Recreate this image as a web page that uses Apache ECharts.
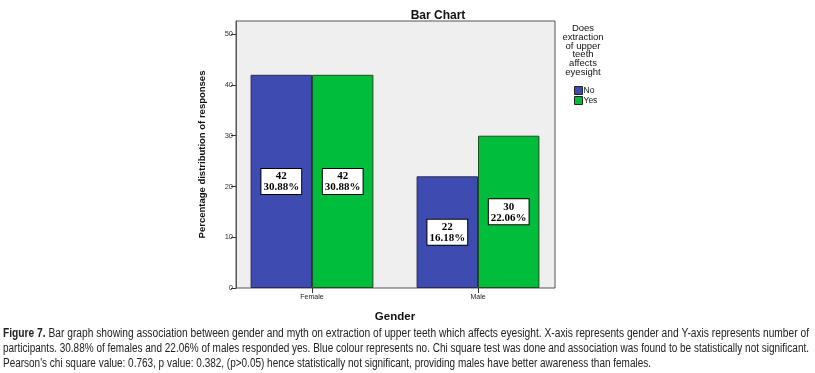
<!DOCTYPE html>
<html><head><meta charset="utf-8">
<script src="https://cdn.jsdelivr.net/npm/echarts@6/dist/echarts.min.js"></script>
<style>html,body{margin:0;padding:0;background:#fff}#c{width:815px;height:373px}</style>
</head><body><div id="c"></div>
<script>
const categories = ['Female', 'Male'];
const noCounts = [42, 22];
const yesCounts = [42, 30];
const noPct = ['30.88%', '16.18%'];
const yesPct = ['30.88%', '22.06%'];
const yTicks = [0, 10, 20, 30, 40, 50];
const seriesNames = ['No', 'Yes'];
const legendTitle = 'Does\nextraction\nof upper\nteeth\naffects\neyesight';
const chartTitle = 'Bar Chart';
const xName = 'Gender';
const yName = 'Percentage distribution of responses';
const captionLines = [
  ['Figure 7.', ' Bar graph showing association between gender and myth on extraction of upper teeth which affects eyesight. X-axis represents gender and Y-axis represents number of'],
  ['', 'participants. 30.88% of females and 22.06% of males responded yes. Blue colour represents no. Chi square test was done and association was found to be statistically not significant.'],
  ['', 'Pearson\'s chi square value: 0.763, p value: 0.382, (p>0.05) hence statistically not significant, providing males have better awareness than females.']
];
const captionWidths = [806, 806, 648];

const YMAX = 52.6;
const BLUE = '#3e4cb1', GREEN = '#00bd3c';
const CAP_FS = 12.5;
const chart = echarts.init(document.getElementById('c'), null, {renderer: 'canvas'});

// measure caption lines to condense the font horizontally to the reference widths
const mctx = document.createElement('canvas').getContext('2d');
function lineWidth(ln) {
  mctx.font = 'bold ' + CAP_FS + 'px "Liberation Sans"';
  let w = mctx.measureText(ln[0]).width;
  mctx.font = CAP_FS + 'px "Liberation Sans"';
  return w + mctx.measureText(ln[1]).width;
}

function lbl(pcts) {
  return {
    show: true, position: 'inside',
    formatter: p => '{a|' + p.value + '}\n{a|' + pcts[p.dataIndex] + '}',
    backgroundColor: '#fff', borderColor: '#000', borderWidth: 1,
    padding: [2, 2, 1, 2],
    rich: {a: {fontFamily: 'Liberation Serif', fontWeight: 'bold', fontSize: 11, lineHeight: 11, color: '#000', align: 'center'}}
  };
}

const captionGraphics = captionLines.map((ln, i) => ({
  type: 'text', x: 3, y: 327 + i * 15, scaleX: captionWidths[i] / lineWidth(ln),
  style: {
    text: (ln[0] ? '{b|' + ln[0] + '}' : '') + '{n|' + ln[1] + '}',
    rich: {
      b: {fontFamily: 'Liberation Sans', fontWeight: 'bold', fontSize: CAP_FS, fill: '#222'},
      n: {fontFamily: 'Liberation Sans', fontSize: CAP_FS, fill: '#222'}
    }
  }
}));

chart.setOption({
  animation: false,
  backgroundColor: '#fff',
  title: {text: chartTitle, left: 433, top: 5, textAlign: 'center',
    textStyle: {fontFamily: 'Liberation Sans', fontWeight: 'bold', fontSize: 12, color: '#111'}},
  legend: {
    data: seriesNames, orient: 'vertical', left: 569, top: 81, itemGap: 1,
    icon: 'rect', itemWidth: 8, itemHeight: 8,
    itemStyle: {borderColor: '#222', borderWidth: 1},
    textStyle: {fontFamily: 'Liberation Sans', fontSize: 8.5, color: '#111', padding: [0, 0, 0, -4]}
  },
  grid: [
    {left: 236, right: 260, top: 21, bottom: 85, show: true, backgroundColor: '#efefef', borderColor: '#555', borderWidth: 1},
    {left: 229, width: 332, top: 21, bottom: 85}
  ],
  xAxis: [
    {gridIndex: 0, type: 'category', data: categories, show: false},
    {gridIndex: 1, type: 'category', data: categories,
      axisLine: {show: false},
      axisTick: {show: true, alignWithLabel: true, length: 5, lineStyle: {color: '#333'}},
      axisLabel: {fontFamily: 'Liberation Sans', fontSize: 7, color: '#222', margin: 6},
      name: xName, nameLocation: 'middle', nameGap: 23,
      nameTextStyle: {fontFamily: 'Liberation Sans', fontWeight: 'bold', fontSize: 11.5, color: '#111'}},
    ],
  yAxis: [
    {gridIndex: 0, type: 'value', min: 0, max: YMAX,
      axisLine: {show: true, lineStyle: {color: '#555'}},
      axisTick: {show: true, customValues: yTicks, length: 5, lineStyle: {color: '#333'}},
      axisLabel: {customValues: yTicks, fontFamily: 'Liberation Sans', fontSize: 7.5, color: '#333', margin: 3},
      splitLine: {show: false},
      name: yName, nameLocation: 'middle', nameGap: 29, nameRotate: 90,
      nameTextStyle: {fontFamily: 'Liberation Sans', fontWeight: 'bold', fontSize: 9.5, color: '#111'}},
    {gridIndex: 1, type: 'value', min: 0, max: YMAX, show: false}
  ],
  series: [
    {name: seriesNames[0], type: 'bar', xAxisIndex: 1, yAxisIndex: 1, data: noCounts,
      barGap: '0%', barCategoryGap: '26%',
      itemStyle: {color: BLUE, borderColor: '#2a2a55', borderWidth: 1}, label: lbl(noPct)},
    {name: seriesNames[1], type: 'bar', xAxisIndex: 1, yAxisIndex: 1, data: yesCounts,
      barGap: '0%', barCategoryGap: '26%',
      itemStyle: {color: GREEN, borderColor: '#1e4d1e', borderWidth: 1}, label: lbl(yesPct)}
  ],
  graphic: [
    {type: 'text', x: 583, y: 24,
      style: {text: legendTitle, fontFamily: 'Liberation Sans', fontSize: 9.5, lineHeight: 8.8, fill: '#111', align: 'center'}}
  ].concat(captionGraphics)
});
</script></body></html>
